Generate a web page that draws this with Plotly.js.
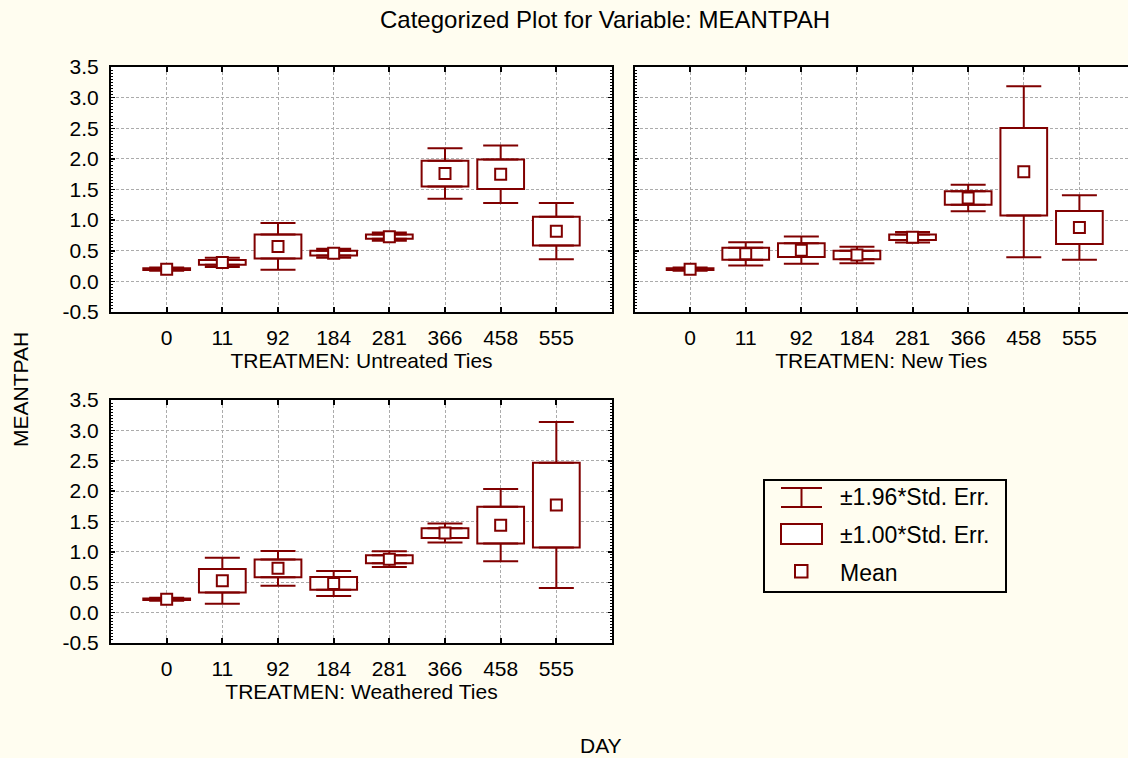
<!DOCTYPE html>
<html><head><meta charset="utf-8">
<script src="https://cdn.plot.ly/plotly-3.0.1.min.js"></script>
<style>html,body{margin:0;padding:0;background:#FFFDF0}</style>
</head><body><div id="chart" style="width:1128px;height:758px"></div>
<script>
// ---- data ----
const days = ['0','11','92','184','281','366','458','555'];
const untreatedMean = [0.20, 0.31, 0.57, 0.46, 0.73, 1.76, 1.75, 0.82];
const untreatedSE   = [0.014, 0.038, 0.195, 0.038, 0.035, 0.21, 0.24, 0.235];
const newMean       = [0.20, 0.45, 0.51, 0.43, 0.72, 1.36, 1.79, 0.88];
const newSE         = [0.013, 0.097, 0.113, 0.068, 0.044, 0.11, 0.713, 0.268];
const weatheredMean = [0.22, 0.525, 0.73, 0.48, 0.88, 1.31, 1.44, 1.77];
const weatheredSE   = [0.013, 0.193, 0.146, 0.105, 0.066, 0.08, 0.303, 0.697];
const yTickVals = [-0.5, 0, 0.5, 1, 1.5, 2, 2.5, 3, 3.5];
const yTickText = ['-0.5','0.0','0.5','1.0','1.5','2.0','2.5','3.0','3.5'];
const panelTitles = ['TREATMEN: Untreated Ties','TREATMEN: New Ties','TREATMEN: Weathered Ties'];
const legendLabels = ['\u00b11.96*Std. Err.', '\u00b11.00*Std. Err.', 'Mean'];

// ---- style ----
const RED = '#800000';
const GRID = '#ABABAB';
const BG = '#FFFDF0';
const W = 1128, H = 758;
const FONT = 'Liberation Sans, Arial, sans-serif';
const px = v => v / W;
const py = v => 1 - v / H;

function panelTraces(mean, se, xa, ya) {
  const lo = mean.map((m, i) => m - se[i]);
  const hi = mean.map((m, i) => m + se[i]);
  const boxH = se.map(s => 2 * s);
  const whisk = se.map(s => 0.96 * s);
  const zeros = se.map(() => 0);
  const common = {x: days, xaxis: xa, yaxis: ya, hoverinfo: 'skip', showlegend: false};
  const inv = {size: 1, color: 'rgba(0,0,0,0)'};
  return [
    Object.assign({type: 'bar', y: boxH, base: lo, width: 0.84,
      marker: {color: 'white', line: {color: RED, width: 2}}}, common),
    Object.assign({type: 'scatter', mode: 'markers', y: hi, marker: inv,
      error_y: {type: 'data', symmetric: false, array: whisk, arrayminus: zeros,
                color: RED, thickness: 2, width: 17.5}}, common),
    Object.assign({type: 'scatter', mode: 'markers', y: lo, marker: inv,
      error_y: {type: 'data', symmetric: false, array: zeros, arrayminus: whisk,
                color: RED, thickness: 2, width: 17.5}}, common),
    Object.assign({type: 'scatter', mode: 'markers', y: mean,
      marker: {symbol: 'square', size: 11, color: 'white', line: {color: RED, width: 2}}}, common)
  ];
}

const data = [].concat(
  panelTraces(untreatedMean, untreatedSE, 'x', 'y'),
  panelTraces(newMean, newSE, 'x2', 'y2'),
  panelTraces(weatheredMean, weatheredSE, 'x3', 'y3')
);

function xAxis(domain, range, title, anchor) {
  return {
    domain: domain, anchor: anchor, type: 'category', categoryorder: 'array', categoryarray: days,
    range: range, showgrid: true, gridcolor: GRID, gridwidth: 1, griddash: '3px,2px',
    ticks: 'inside', ticklen: 5, tickwidth: 2, tickcolor: 'black',
    showline: true, linecolor: 'black', linewidth: 2, mirror: 'ticks', zeroline: false,
    tickfont: {family: FONT, size: 21, color: 'black'}, ticklabelstandoff: 6,
    title: {text: title, font: {family: FONT, size: 21, color: 'black'}, standoff: 4},
    fixedrange: true
  };
}
function yAxis(domain, anchor, mirror) {
  return {
    domain: domain, anchor: anchor, range: [-0.5, 3.5],
    tickmode: 'array', tickvals: yTickVals, ticktext: yTickText,
    showgrid: true, gridcolor: GRID, gridwidth: 1, griddash: '3px,2px',
    ticks: 'inside', ticklen: 4, tickwidth: 1.5, tickcolor: 'black',
    minor: {dtick: 0.05, ticklen: 2, tickwidth: 1, tickcolor: 'black', ticks: 'inside', showgrid: false},
    showline: true, linecolor: 'black', linewidth: 2, mirror: mirror, zeroline: false,
    tickfont: {family: FONT, size: 21, color: 'black'}, ticklabelstandoff: 6,
    fixedrange: true
  };
}

const shapes = [
  // legend frame
  {type: 'rect', xref: 'paper', yref: 'paper', x0: px(764), x1: px(1006), y0: py(480), y1: py(592),
   line: {color: 'black', width: 2}, fillcolor: 'rgba(0,0,0,0)'},
  // whisker glyph
  {type: 'line', xref: 'paper', yref: 'paper', x0: px(781), x1: px(822), y0: py(488), y1: py(488), line: {color: RED, width: 2}},
  {type: 'line', xref: 'paper', yref: 'paper', x0: px(781), x1: px(822), y0: py(507), y1: py(507), line: {color: RED, width: 2}},
  {type: 'line', xref: 'paper', yref: 'paper', x0: px(801.5), x1: px(801.5), y0: py(488), y1: py(507), line: {color: RED, width: 2}},
  // box glyph
  {type: 'rect', xref: 'paper', yref: 'paper', x0: px(781), x1: px(822), y0: py(524), y1: py(544),
   line: {color: RED, width: 2}, fillcolor: 'white'},
  // mean glyph
  {type: 'rect', xref: 'paper', yref: 'paper', x0: px(795), x1: px(807.5), y0: py(565), y1: py(577.5),
   line: {color: RED, width: 2}, fillcolor: 'white'}
];

const annFont = {family: FONT, size: 21, color: 'black'};
const legFont = {family: FONT, size: 23, color: 'black'};
const annotations = [
  {xref: 'paper', yref: 'paper', x: px(838), y: py(497), text: legendLabels[0], showarrow: false, xanchor: 'left', yanchor: 'middle', font: legFont},
  {xref: 'paper', yref: 'paper', x: px(838), y: py(535), text: legendLabels[1], showarrow: false, xanchor: 'left', yanchor: 'middle', font: legFont},
  {xref: 'paper', yref: 'paper', x: px(838), y: py(573), text: legendLabels[2], showarrow: false, xanchor: 'left', yanchor: 'middle', font: legFont},
  {xref: 'paper', yref: 'paper', x: px(20), y: py(390), text: 'MEANTPAH', textangle: -90, showarrow: false, xanchor: 'center', yanchor: 'middle', font: annFont},
  {xref: 'paper', yref: 'paper', x: px(601), y: py(745), text: 'DAY', showarrow: false, xanchor: 'center', yanchor: 'middle', font: annFont}
];

const layout = {
  width: W, height: H,
  margin: {l: 0, r: 0, t: 0, b: 0, pad: 0},
  paper_bgcolor: BG, plot_bgcolor: 'white',
  font: {family: FONT, color: 'black'},
  title: {text: 'Categorized Plot for Variable: MEANTPAH', font: {family: FONT, size: 24, color: 'black'},
          x: px(605), xanchor: 'center', y: py(20), yanchor: 'middle', xref: 'paper', yref: 'paper'},
  showlegend: false,
  barmode: 'overlay',
  xaxis: xAxis([px(111), px(612)], [-1, 8], panelTitles[0], 'y'),
  yaxis: yAxis([py(312), py(67)], 'x', 'ticks'),
  xaxis2: xAxis([px(634.5), 1], [-1, 7.874], panelTitles[1], 'y2'),
  yaxis2: yAxis([py(312), py(67)], 'x2', false),
  xaxis3: xAxis([px(111), px(612)], [-1, 8], panelTitles[2], 'y3'),
  yaxis3: yAxis([py(643), py(400)], 'x3', 'ticks'),
  shapes: shapes,
  annotations: annotations
};
layout.yaxis2.showticklabels = false;

Plotly.newPlot('chart', data, layout, {displayModeBar: false, staticPlot: true});
</script>
</body></html>
